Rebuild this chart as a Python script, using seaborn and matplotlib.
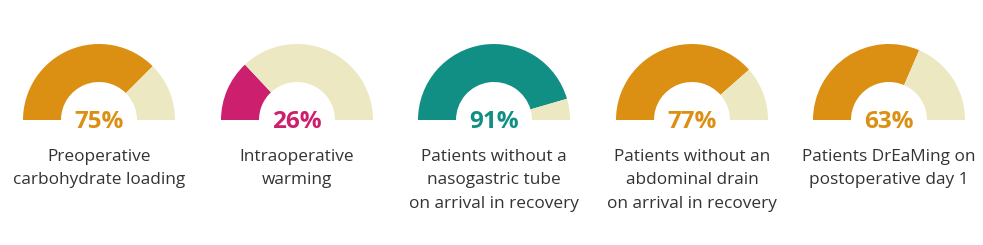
import matplotlib
matplotlib.use("Agg")
import matplotlib.pyplot as plt
import seaborn as sns

# ---- data ----
percentages = [75, 26, 91, 77, 63]
labels = [
    "Preoperative\ncarbohydrate loading",
    "Intraoperative\nwarming",
    "Patients without a\nnasogastric tube\non arrival in recovery",
    "Patients without an\nabdominal drain\non arrival in recovery",
    "Patients DrEaMing on\npostoperative day 1",
]
colors = ["#DB9013", "#CC1F6E", "#128F85", "#DB9013", "#DB9013"]
rest_color = "#ECE8C2"
text_color = "#333333"

sns.set_theme(style="white")
plt.rcParams["font.family"] = ["Open Sans", "DejaVu Sans"]

W, H = 983, 245
fig = plt.figure(figsize=(W / 100, H / 100), dpi=100)
ax = fig.add_axes([0, 0, 1, 1])

centers_x = [99, 297, 494, 692, 889]
base_y = H - 120
r_out = 76
ring_w = 38

for cx, pct, lab, col in zip(centers_x, percentages, labels, colors):
    ax.pie([pct, 100 - pct, 100], colors=[col, rest_color, "none"],
           startangle=180, counterclock=False, center=(cx, base_y),
           radius=r_out, wedgeprops=dict(width=ring_w, linewidth=0))
    ax.text(cx, H - 128, f"{pct}%", ha="center", va="baseline",
            fontsize=17.5, fontweight="bold", color=col)
    for i, line in enumerate(lab.split("\n")):
        ax.text(cx, H - (161 + 23.5 * i), line, ha="center", va="baseline",
                fontsize=12.4, color=text_color)

ax.set_xlim(0, W)
ax.set_ylim(0, H)
ax.set_aspect("equal", adjustable="box")
ax.axis("off")
fig.savefig("out.png", dpi=100, facecolor="white")
